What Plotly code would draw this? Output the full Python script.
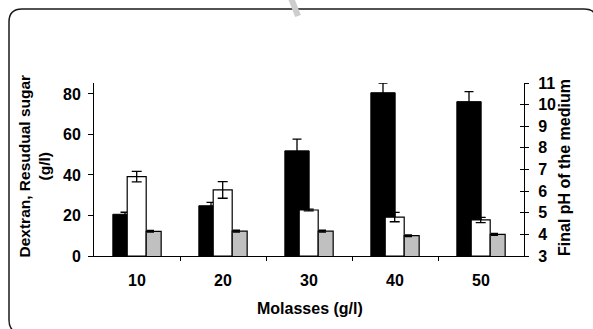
import plotly.graph_objects as go

# Molasses concentration groups
molasses = ["10", "20", "30", "40", "50"]

# Dextran (g/l) with standard deviations
dextran = [20.6, 24.8, 51.9, 80.6, 76.2]
dextran_err = [1.0, 1.7, 5.8, 4.7, 4.9]

# Residual sugar (g/l) with standard deviations
sugar = [39.2, 32.6, 22.7, 19.2, 17.8]
sugar_err = [2.6, 4.1, 0.4, 2.3, 1.3]

# Final pH of the medium with standard deviations
ph = [4.14, 4.15, 4.15, 3.94, 4.0]
ph_err = [0.04, 0.04, 0.04, 0.04, 0.04]

left_ticks = [0, 20, 40, 60, 80]
right_ticks = [3, 4, 5, 6, 7, 8, 9, 10, 11]

W, H = 593, 329
L, R, T, B = 94, 69, 83, 73
PW, PH = W - L - R, H - T - B

FONT = "Liberation Sans, Arial, sans-serif"
idx = list(range(len(molasses)))


def px(x):
    return (x - L) / PW


def py(y):
    return (H - B - y) / PH


fig = go.Figure()

fig.add_trace(go.Bar(
    x=idx, y=dextran, name="Dextran",
    offset=-0.281, width=0.283,
    marker=dict(color="black", line=dict(color="black", width=1)),
    error_y=dict(type="data", array=dextran_err, color="black", thickness=1.3, width=4.5),
))
fig.add_trace(go.Bar(
    x=idx, y=sugar, name="Residual sugar",
    offset=-0.114, width=0.221,
    marker=dict(color="white", line=dict(color="black", width=1.2)),
    error_y=dict(type="data", array=sugar_err, color="black", thickness=1.3, width=5),
))
fig.add_trace(go.Bar(
    x=idx, y=ph, name="Final pH", yaxis="y2",
    offset=0.107, width=0.174, base=0,
    marker=dict(color="#c0c0c0", line=dict(color="black", width=1.2)),
))
fig.add_trace(go.Scatter(
    x=[i + 0.157 for i in idx], y=ph, yaxis="y3", mode="markers",
    marker=dict(size=1, color="rgba(0,0,0,0)"),
    error_y=dict(type="data", array=ph_err, color="black", thickness=1.3, width=3.5),
    hoverinfo="skip",
))

tickfont = dict(family=FONT, size=16, color="black", weight="bold")

frame_x0, frame_y0, frame_x1, frame_y1, rad = 9, 9, 597, 333, 13
frame_path = (
    f"M {px(frame_x0)},{py(frame_y0 + rad)} "
    f"Q {px(frame_x0)},{py(frame_y0)} {px(frame_x0 + rad)},{py(frame_y0)} "
    f"L {px(frame_x1 - rad)},{py(frame_y0)} "
    f"Q {px(frame_x1)},{py(frame_y0)} {px(frame_x1)},{py(frame_y0 + rad)} "
    f"L {px(frame_x1)},{py(frame_y1 - rad)} "
    f"Q {px(frame_x1)},{py(frame_y1)} {px(frame_x1 - rad)},{py(frame_y1)} "
    f"L {px(frame_x0 + rad)},{py(frame_y1)} "
    f"Q {px(frame_x0)},{py(frame_y1)} {px(frame_x0)},{py(frame_y1 - rad)} Z"
)

fig.update_layout(
    width=W, height=H,
    margin=dict(l=L, r=R, t=T, b=B, pad=0),
    paper_bgcolor="white", plot_bgcolor="white",
    showlegend=False, barmode="overlay",
    font=dict(family=FONT, color="black"),
    xaxis=dict(
        range=[-0.5, len(molasses) - 0.5],
        tickmode="array", tickvals=idx, ticktext=molasses,
        ticks="", ticklabelstandoff=10, tickfont=tickfont,
        showline=True, linecolor="black", linewidth=1,
        showgrid=False, zeroline=False,
        minor=dict(tickmode="array", tickvals=[i + 0.5 for i in idx[:-1]],
                   ticks="outside", ticklen=4, tickwidth=1, tickcolor="black",
                   showgrid=False),
    ),
    yaxis=dict(
        range=[0, 85.4], tickmode="array", tickvals=left_ticks,
        ticks="outside", ticklen=5, tickwidth=1, tickcolor="black",
        ticklabelstandoff=4, tickfont=tickfont,
        showline=True, linecolor="black", linewidth=1,
        showgrid=False, zeroline=False,
    ),
    yaxis2=dict(
        range=[3, 11], overlaying="y", side="right", anchor="x",
        tickmode="array", tickvals=right_ticks,
        ticks="outside", ticklen=4, tickwidth=1, tickcolor="black",
        ticklabelstandoff=6, tickfont=tickfont,
        showline=True, linecolor="black", linewidth=1,
        showgrid=False, zeroline=False,
    ),
    yaxis3=dict(
        range=[3, 11], overlaying="y", side="right", anchor="x",
        tickmode="array", tickvals=right_ticks,
        ticks="inside", ticklen=4, tickwidth=1, tickcolor="black",
        showticklabels=False, showline=False,
        showgrid=False, zeroline=False,
    ),
    shapes=[
        dict(type="path", xref="paper", yref="paper", path=frame_path,
             line=dict(color="#1a1a1a", width=1.5), fillcolor="rgba(0,0,0,0)"),
        dict(type="line", xref="paper", yref="paper",
             x0=px(291), y0=py(-2), x1=px(298), y1=py(16),
             line=dict(color="#cdcdcd", width=6)),
    ],
    annotations=[
        dict(text="Dextran, Resudual sugar<br>(g/l)", textangle=-90,
             xref="paper", yref="paper", x=px(33.5), y=py(166),
             xanchor="center", yanchor="middle", showarrow=False,
             font=dict(family=FONT, size=15.5, color="black", weight="bold")),
        dict(text="Final pH of the medium", textangle=-90,
             xref="paper", yref="paper", x=px(564), y=py(168),
             xanchor="center", yanchor="middle", showarrow=False,
             font=dict(family=FONT, size=16, color="black", weight="bold")),
        dict(text="Molasses (g/l)",
             xref="paper", yref="paper", x=px(310), y=py(308),
             xanchor="center", yanchor="middle", showarrow=False,
             font=dict(family=FONT, size=16, color="black", weight="bold")),
    ],
)

fig.write_html("out.html")
